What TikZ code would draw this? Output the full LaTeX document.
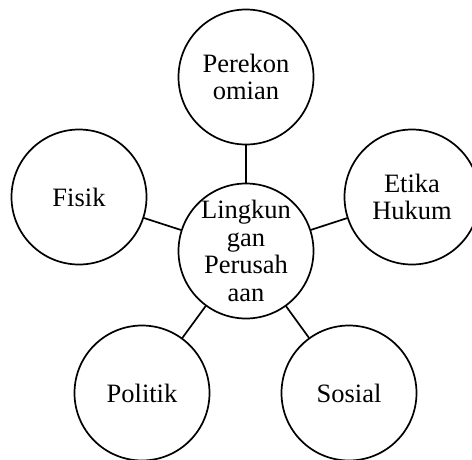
\documentclass[tikz,border=0pt]{standalone}
\usepackage{fontspec}
\setmainfont{Liberation Serif}
\usepackage{tikz}
\usetikzlibrary{shapes}
\tikzstyle{bubble} = [circle, draw, line width=1.7pt, minimum size=135pt,
    inner sep=0pt, align=center, font=\fontsize{26.5}{27.5}\selectfont]

\begin{document}
\begin{tikzpicture}[line width=1.7pt,x=1pt,y=-1pt]
  \useasboundingbox (0,0) rectangle (472,459);
  \node[bubble] (pusat)   at (246,251) {Lingkun\\gan\\Perusah\\aan};
  \node[bubble] (eko)     at (246,77)  {Perekon\\omian};
  \node[bubble] (fisik)   at (79,197)  {Fisik};
  \node[bubble] (etika)   at (412,197) {Etika\\Hukum};
  \node[bubble] (politik) at (142,393) {Politik};
  \node[bubble] (sosial)  at (349,393) {Sosial};

  \path[draw] (pusat) edge (eko)
                      edge (fisik)
                      edge (etika)
                      edge (politik)
                      edge (sosial);
\end{tikzpicture}
\end{document}
